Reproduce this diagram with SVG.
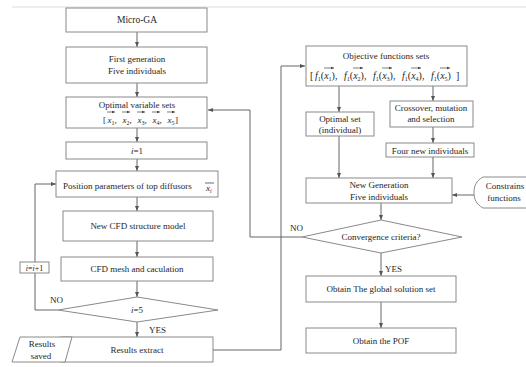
<svg xmlns="http://www.w3.org/2000/svg" width="526" height="367" viewBox="0 0 526 367" font-family="'Liberation Serif', 'Times New Roman', serif">
<defs>
<marker id="ah" viewBox="0 0 10 10" refX="10" refY="5" markerWidth="5" markerHeight="5" orient="auto" markerUnits="userSpaceOnUse">
<path d="M0,1 L10,5 L0,9 Z" fill="#555"/>
</marker>
<marker id="va" viewBox="0 0 10 10" refX="10" refY="5" markerWidth="3.5" markerHeight="3.5" orient="auto" markerUnits="userSpaceOnUse">
<path d="M0,1 L10,5 L0,9 Z" fill="#444"/>
</marker>
</defs>
<style>
.box{fill:#fff;stroke:#8a8a8a;stroke-width:1}
.ln{fill:none;stroke:#666;stroke-width:1}
.arr{fill:none;stroke:#666;stroke-width:1;marker-end:url(#ah)}
.vec{fill:none;stroke:#444;stroke-width:0.7;marker-end:url(#va)}
text{font-family:'Liberation Serif','Times New Roman',serif;font-size:9px;fill:#262626}
.c{text-anchor:middle}
.it{font-style:italic}
.sub{font-size:6px}
.fm{font-size:10px}
</style>
<rect width="526" height="367" fill="#fff"/>
<line x1="12" y1="7" x2="526" y2="7" stroke="#dcdcdc" stroke-width="1"/>

<g id="connectors">
<line class="arr" x1="137" y1="32" x2="137" y2="47"/>
<line class="arr" x1="137" y1="83" x2="137" y2="97"/>
<line class="arr" x1="137" y1="128" x2="137" y2="142"/>
<line class="arr" x1="137" y1="159" x2="137" y2="171"/>
<line class="arr" x1="137" y1="197" x2="137" y2="211"/>
<line class="arr" x1="137" y1="241" x2="137" y2="257"/>
<line class="arr" x1="137" y1="281" x2="137" y2="297"/>
<line class="arr" x1="137" y1="322" x2="137" y2="337"/>
<line class="arr" x1="61" y1="350" x2="68" y2="350"/>
<polyline class="ln" points="58,310 35,310 35,273"/>
<polyline class="arr" points="35,262 35,184 56,184"/>
<polyline class="arr" points="213,350 281,350 281,66 305,66"/>
<polyline class="arr" points="302,237 250,237 250,110 208,110"/>
<line class="arr" x1="339" y1="86" x2="339" y2="112"/>
<line class="arr" x1="433" y1="86" x2="433" y2="101"/>
<line class="arr" x1="433" y1="127" x2="433" y2="143"/>
<line class="arr" x1="339" y1="136" x2="339" y2="178"/>
<line class="arr" x1="433" y1="157" x2="433" y2="178"/>
<line class="arr" x1="474" y1="195" x2="452" y2="195"/>
<line class="arr" x1="381" y1="203" x2="381" y2="220"/>
<line class="arr" x1="381" y1="253" x2="381" y2="276"/>
<line class="arr" x1="381" y1="302" x2="381" y2="328"/>
<text x="50" y="303">NO</text>
<text x="149" y="333">YES</text>
<text x="290" y="231">NO</text>
<text x="385" y="272">YES</text>
</g>

<g id="micro-ga">
<rect class="box" x="66" y="8" width="141" height="24"/>
<text class="c" x="137" y="23" style="font-size:9.5px">Micro-GA</text>
</g>

<g id="first-generation">
<rect class="box" x="66" y="47" width="141" height="36"/>
<text class="c" x="137" y="62">First generation</text>
<text class="c" x="137" y="74">Five individuals</text>
</g>

<g id="optimal-variable-sets">
<rect class="box" x="66" y="97" width="141" height="31"/>
<text class="c" x="137" y="108">Optimal variable sets</text>
<text x="103" y="123">[</text>
<text x="107.5" y="123"><tspan class="it">x</tspan><tspan class="sub" dy="2">1</tspan><tspan dy="-2">,</tspan></text>
<text x="122.5" y="123"><tspan class="it">x</tspan><tspan class="sub" dy="2">2</tspan><tspan dy="-2">,</tspan></text>
<text x="137.5" y="123"><tspan class="it">x</tspan><tspan class="sub" dy="2">3</tspan><tspan dy="-2">,</tspan></text>
<text x="152.5" y="123"><tspan class="it">x</tspan><tspan class="sub" dy="2">4</tspan><tspan dy="-2">,</tspan></text>
<text x="167.5" y="123"><tspan class="it">x</tspan><tspan class="sub" dy="2">5</tspan></text>
<text x="175" y="123">]</text>
<line class="vec" x1="107" y1="112" x2="115" y2="112"/>
<line class="vec" x1="122" y1="112" x2="130" y2="112"/>
<line class="vec" x1="137" y1="112" x2="145" y2="112"/>
<line class="vec" x1="152" y1="112" x2="160" y2="112"/>
<line class="vec" x1="167" y1="112" x2="175" y2="112"/>
</g>

<g id="i-equals-1">
<rect class="box" x="66" y="142" width="141" height="17"/>
<text class="c" x="137" y="154"><tspan class="it">i</tspan>=1</text>
</g>

<g id="position-parameters">
<rect class="box" x="56" y="171" width="162" height="26"/>
<text x="63" y="189">Position parameters of top diffusors</text>
<text x="206" y="191"><tspan class="it">x</tspan><tspan class="sub it" dy="2">i</tspan></text>
<line x1="205" y1="183" x2="214" y2="183" stroke="#444" stroke-width="0.8"/>
</g>

<g id="new-cfd-model">
<rect class="box" x="63" y="211" width="150" height="30"/>
<text class="c" x="138" y="229">New CFD structure model</text>
</g>

<g id="cfd-mesh">
<rect class="box" x="61" y="257" width="152" height="24"/>
<text class="c" x="137" y="272">CFD mesh and caculation</text>
</g>

<g id="i-equals-5">
<polygon class="box" points="58,310 137,297 218,310 137,322"/>
<text class="c" x="137" y="313"><tspan class="it">i</tspan>=5</text>
</g>

<g id="i-plus-1">
<rect class="box" x="20" y="262" width="29" height="11"/>
<text class="c" x="34.5" y="270.5" style="font-size:8px"><tspan class="it">i</tspan>=<tspan class="it">i</tspan>+1</text>
</g>

<g id="results-extract">
<rect class="box" x="61" y="337" width="152" height="25"/>
<text class="c" x="137" y="353">Results extract</text>
</g>

<g id="results-saved">
<polygon class="box" points="20,337 72,337 65,362 12,362"/>
<text class="c" x="42" y="347">Results</text>
<text class="c" x="41" y="359">saved</text>
</g>

<g id="objective-functions">
<rect class="box" x="306" y="46" width="161" height="40"/>
<text class="c" x="386" y="59">Objective functions sets</text>
<text class="fm" x="310" y="79">[</text>
<text class="fm" x="315" y="79"><tspan class="it">f</tspan><tspan class="sub" dy="2">1</tspan><tspan dy="-2">(</tspan><tspan class="it">x</tspan><tspan class="sub" dy="2">1</tspan><tspan dy="-2">),</tspan></text>
<text class="fm" x="344" y="79"><tspan class="it">f</tspan><tspan class="sub" dy="2">1</tspan><tspan dy="-2">(</tspan><tspan class="it">x</tspan><tspan class="sub" dy="2">2</tspan><tspan dy="-2">),</tspan></text>
<text class="fm" x="373" y="79"><tspan class="it">f</tspan><tspan class="sub" dy="2">1</tspan><tspan dy="-2">(</tspan><tspan class="it">x</tspan><tspan class="sub" dy="2">3</tspan><tspan dy="-2">),</tspan></text>
<text class="fm" x="402" y="79"><tspan class="it">f</tspan><tspan class="sub" dy="2">1</tspan><tspan dy="-2">(</tspan><tspan class="it">x</tspan><tspan class="sub" dy="2">4</tspan><tspan dy="-2">),</tspan></text>
<text class="fm" x="431" y="79"><tspan class="it">f</tspan><tspan class="sub" dy="2">1</tspan><tspan dy="-2">(</tspan><tspan class="it">x</tspan><tspan class="sub" dy="2">5</tspan><tspan dy="-2">)</tspan></text>
<text class="fm" x="456" y="79">]</text>
<line class="vec" x1="324" y1="68" x2="334" y2="68"/>
<line class="vec" x1="353" y1="68" x2="363" y2="68"/>
<line class="vec" x1="382" y1="68" x2="392" y2="68"/>
<line class="vec" x1="411" y1="68" x2="421" y2="68"/>
<line class="vec" x1="440" y1="68" x2="450" y2="68"/>
</g>

<g id="optimal-set">
<rect class="box" x="306" y="112" width="68" height="24"/>
<text class="c" x="340" y="122">Optimal set</text>
<text class="c" x="340" y="133">(individual)</text>
</g>

<g id="crossover">
<rect class="box" x="390" y="101" width="83" height="26"/>
<text class="c" x="431" y="111">Crossover, mutation</text>
<text class="c" x="431" y="122">and selection</text>
</g>

<g id="four-new">
<rect class="box" x="386" y="143" width="88" height="14"/>
<text class="c" x="430" y="153.5">Four new individuals</text>
</g>

<g id="new-generation">
<rect class="box" x="306" y="178" width="146" height="25"/>
<text class="c" x="379" y="188">New Generation</text>
<text class="c" x="379" y="200">Five individuals</text>
</g>

<g id="constrains">
<path class="box" d="M527,177 H483 C476,181 474,186 474,192.5 C474,199 476,204 483,208 H527"/>
<text class="c" x="505" y="189">Constrains</text>
<text class="c" x="504" y="201">functions</text>
</g>

<g id="convergence">
<polygon class="box" points="302,237 381,220 462,237 381,253"/>
<text class="c" x="381" y="240">Convergence criteria?</text>
</g>

<g id="global-solution">
<rect class="box" x="306" y="276" width="150" height="26"/>
<text class="c" x="381" y="292">Obtain The global solution set</text>
</g>

<g id="pof">
<rect class="box" x="306" y="328" width="150" height="25"/>
<text class="c" x="381" y="344">Obtain the POF</text>
</g>
</svg>
